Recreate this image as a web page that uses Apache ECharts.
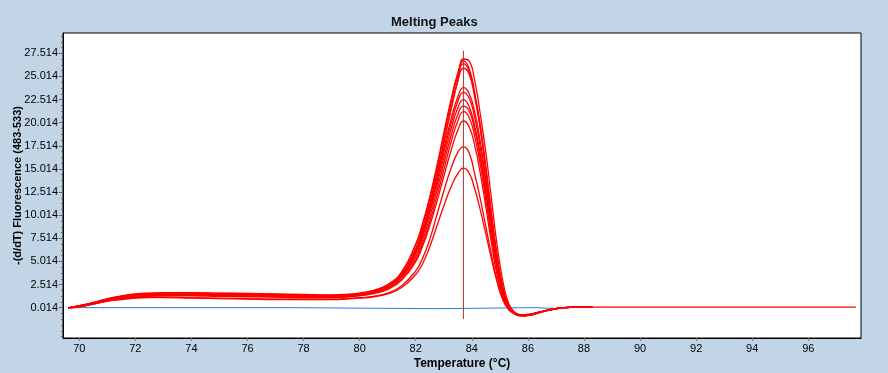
<!DOCTYPE html>
<html>
<head>
<meta charset="utf-8">
<script src="https://cdn.jsdelivr.net/npm/echarts@6/dist/echarts.min.js"></script>
<style>
html,body{margin:0;padding:0;background:#c2d5e6;}
#chart{width:888px;height:373px;}
</style>
</head>
<body>
<div id="chart"></div>
<script>
// Temperature grid (°C) shared by the red melting-peak curves
const temps = [69.6, 70, 70.5, 71, 71.5, 72, 72.5, 73, 74, 75, 76, 77, 78, 79, 79.5, 80, 80.5, 81, 81.5, 82,
  82.25, 82.5, 82.75, 83, 83.25, 83.5, 83.7, 83.9, 84.1, 84.3, 84.5, 84.7, 84.9, 85.1, 85.3, 85.5, 85.8, 86.1, 86.5, 87, 87.5, 88.3];

// -(d/dT) Fluorescence values, one array per sample
const curve1 = [0.0, 0.25, 0.6, 1.0, 1.3, 1.5, 1.6, 1.65, 1.65, 1.6, 1.55, 1.5, 1.45, 1.4, 1.45, 1.6, 1.9, 2.5, 3.6, 6.2,
  8.3, 11.0, 14.2, 17.8, 21.3, 24.6, 26.9, 26.7, 24.6, 21.0, 16.8, 11.8, 6.8, 3.0, 0.6, -0.4, -0.85, -0.8, -0.45, -0.1, 0.05, 0.05];
const curve2 = [0.0, 0.2, 0.55, 0.95, 1.25, 1.45, 1.55, 1.6, 1.6, 1.55, 1.5, 1.45, 1.4, 1.35, 1.4, 1.55, 1.85, 2.5, 3.9, 6.9,
  9.2, 12.0, 15.3, 18.9, 22.4, 25.4, 26.7, 25.9, 23.3, 19.5, 14.8, 9.8, 5.4, 2.1, 0.2, -0.6, -0.9, -0.75, -0.4, -0.1, 0.05, 0.05];
const curve3 = [0.0, 0.2, 0.5, 0.9, 1.2, 1.4, 1.5, 1.55, 1.55, 1.5, 1.45, 1.4, 1.35, 1.3, 1.35, 1.5, 1.8, 2.45, 3.8, 6.8,
  9.0, 11.8, 15.0, 18.5, 22.0, 25.1, 26.4, 25.6, 23.1, 19.8, 15.3, 10.3, 5.7, 2.3, 0.3, -0.55, -0.85, -0.75, -0.4, -0.1, 0.05, 0.05];
const curve4 = [0.0, 0.15, 0.5, 0.85, 1.15, 1.35, 1.45, 1.5, 1.5, 1.45, 1.4, 1.35, 1.3, 1.25, 1.3, 1.45, 1.75, 2.35, 3.6, 6.4,
  8.6, 11.3, 14.5, 17.9, 21.4, 24.5, 25.9, 25.3, 22.8, 19.4, 15.0, 10.0, 5.5, 2.2, 0.25, -0.55, -0.85, -0.7, -0.4, -0.1, 0.05, 0.05];
const curve5 = [0.0, 0.2, 0.55, 0.9, 1.2, 1.4, 1.5, 1.55, 1.5, 1.5, 1.45, 1.4, 1.35, 1.3, 1.35, 1.5, 1.8, 2.4, 3.6, 6.2,
  8.3, 11.0, 14.0, 17.2, 20.3, 22.8, 23.8, 23.2, 21.2, 18.0, 13.8, 9.2, 5.0, 1.9, 0.2, -0.55, -0.85, -0.75, -0.4, -0.1, 0.05, 0.05];
const curve6 = [0.0, 0.15, 0.5, 0.85, 1.1, 1.3, 1.4, 1.45, 1.45, 1.4, 1.35, 1.3, 1.3, 1.25, 1.3, 1.45, 1.75, 2.3, 3.5, 6.0,
  8.0, 10.6, 13.6, 16.8, 19.8, 22.3, 23.3, 22.7, 20.6, 17.4, 13.3, 8.8, 4.8, 1.8, 0.2, -0.55, -0.8, -0.7, -0.4, -0.1, 0.05, 0.05];
const curve7 = [0.0, 0.2, 0.5, 0.85, 1.15, 1.35, 1.45, 1.5, 1.5, 1.45, 1.4, 1.35, 1.3, 1.3, 1.35, 1.45, 1.75, 2.3, 3.4, 5.8,
  7.8, 10.3, 13.2, 16.2, 19.2, 21.6, 22.5, 21.8, 19.7, 16.6, 12.6, 8.4, 4.5, 1.6, 0.1, -0.5, -0.8, -0.7, -0.4, -0.1, 0.05, 0.05];
const curve8 = [0.0, 0.15, 0.45, 0.8, 1.05, 1.25, 1.35, 1.4, 1.4, 1.35, 1.3, 1.25, 1.2, 1.2, 1.25, 1.4, 1.7, 2.2, 3.3, 5.5,
  7.4, 9.8, 12.6, 15.6, 18.5, 20.9, 21.8, 21.3, 19.3, 16.2, 12.3, 8.2, 4.4, 1.5, 0.1, -0.5, -0.8, -0.7, -0.4, -0.1, 0.05, 0.05];
const curve9 = [0.0, 0.15, 0.45, 0.8, 1.05, 1.2, 1.3, 1.35, 1.35, 1.3, 1.25, 1.2, 1.15, 1.15, 1.2, 1.35, 1.6, 2.1, 3.1, 5.2,
  7.0, 9.3, 12.0, 14.9, 17.8, 20.2, 21.2, 20.6, 18.6, 15.5, 11.7, 7.7, 4.1, 1.4, 0.05, -0.5, -0.8, -0.7, -0.4, -0.1, 0.05, 0.05];
const curve10 = [0.0, 0.1, 0.4, 0.75, 1.0, 1.15, 1.25, 1.3, 1.3, 1.25, 1.2, 1.15, 1.1, 1.1, 1.15, 1.3, 1.55, 2.0, 3.0, 5.0,
  6.7, 8.9, 11.4, 14.2, 16.9, 19.2, 20.2, 19.6, 17.6, 14.6, 10.9, 7.0, 3.6, 1.2, 0.0, -0.5, -0.75, -0.65, -0.4, -0.1, 0.05, 0.05];
const curve11 = [0.0, 0.15, 0.45, 0.75, 0.95, 1.1, 1.15, 1.15, 1.1, 1.05, 1.0, 0.95, 0.95, 0.95, 1.0, 1.1, 1.25, 1.6, 2.4, 4.0,
  5.4, 7.4, 10.0, 12.6, 15.0, 16.8, 17.4, 16.8, 14.5, 11.8, 8.8, 5.8, 3.0, 1.0, -0.1, -0.6, -0.8, -0.7, -0.4, -0.1, 0.05, 0.05];
const curve12 = [0.0, 0.1, 0.4, 0.7, 0.9, 1.05, 1.1, 1.1, 1.05, 1.0, 0.95, 0.9, 0.9, 0.9, 0.95, 1.05, 1.2, 1.5, 2.2, 3.6,
  4.8, 6.6, 8.8, 11.0, 13.0, 14.5, 15.1, 14.6, 12.9, 10.6, 8.0, 5.3, 2.8, 0.9, -0.15, -0.6, -0.8, -0.7, -0.4, -0.1, 0.05, 0.05];
const redCurves = [curve1, curve2, curve3, curve4, curve5, curve6, curve7, curve8, curve9, curve10, curve11, curve12];

// Red trace continuing flat to the end of the run
const tailTemps = [87.5, 88.3, 97.7];
const tailValues = [0.05, 0.08, 0.08];

// Blue (negative control) trace
const blueTemps = [69.6, 77.5, 82.8, 86.2, 87.2];
const blueValues = [0.02, -0.09, 0.02, -0.09, -0.09];

// Vertical cursor
const cursorTemp = 83.7;
const cursorRange = [-1.2, 27.8];

// Axis ticks
const xTicks = [70, 72, 74, 76, 78, 80, 82, 84, 86, 88, 90, 92, 94, 96];
const yTicks = [0.014, 2.514, 5.014, 7.514, 10.014, 12.514, 15.014, 17.514, 20.014, 22.514, 25.014, 27.514];
const yTickLabels = ['0.014', '2.514', '5.014', '7.514', '10.014', '12.514', '15.014', '17.514', '20.014', '22.514', '25.014', '27.514'];

const xMin = 69.42, xMax = 97.88, yMin = -3.26, yMax = 29.71;

// minor y ticks: 3 subdivisions between major ticks
const yMinor = [];
for (let k = -5; k <= 47; k++) {
  const v = +(0.014 + k * 0.625).toFixed(4);
  if (v > yMin && v < yMax) yMinor.push(v);
}

const FONT = 'Liberation Sans, Arial, sans-serif';
const series = [];
series.push({
  type: 'line', name: 'blue', step: 'end', symbol: 'none', silent: true,
  data: blueTemps.map((t, i) => [t, blueValues[i]]),
  lineStyle: { color: '#1c7ce0', width: 1 }, z: 1
});
redCurves.forEach((c) => {
  series.push({
    type: 'line', symbol: 'none', smooth: 0.5, silent: true,
    data: temps.map((t, i) => [t, c[i]]),
    lineStyle: { color: '#ff0000', width: 1.3 }, z: 2
  });
});
series.push({
  type: 'line', symbol: 'none', silent: true,
  data: tailTemps.map((t, i) => [t, tailValues[i]]),
  lineStyle: { color: '#ff0000', width: 1.3 }, z: 2
});
series.push({
  type: 'line', symbol: 'none', silent: true,
  data: [[cursorTemp, cursorRange[0]], [cursorTemp, cursorRange[1]]],
  lineStyle: { color: '#a8322d', width: 1 }, z: 3
});

const chart = echarts.init(document.getElementById('chart'), null, { renderer: 'canvas' });
chart.setOption({
  animation: false,
  backgroundColor: '#c2d5e6',
  title: {
    text: 'Melting Peaks', left: 386, top: 11,
    textStyle: { fontSize: 13, fontWeight: 'bold', color: '#111', fontFamily: FONT }
  },
  grid: {
    left: 63, right: 27, top: 33, bottom: 35, containLabel: false, outerBoundsMode: 'none',
    show: true, backgroundColor: '#ffffff', borderColor: '#000', borderWidth: 1
  },
  xAxis: {
    type: 'value', min: xMin, max: xMax,
    name: 'Temperature (°C)', nameLocation: 'middle', nameGap: 20, nameMoveOverlap: false,
    nameTextStyle: { fontSize: 12, fontWeight: 'bold', color: '#000', fontFamily: FONT },
    axisLine: { onZero: false, lineStyle: { color: '#000', width: 1 } },
    axisTick: { show: true, customValues: xTicks, length: 3, lineStyle: { color: '#777' } },
    axisLabel: { customValues: xTicks, margin: 5, fontSize: 11, color: '#000', fontFamily: FONT },
    splitLine: { show: false }
  },
  yAxis: [{
    type: 'value', min: yMin, max: yMax,
    name: '-(d/dT) Fluorescence (483-533)', nameLocation: 'middle', nameGap: 40, nameRotate: 90, nameMoveOverlap: false,
    nameTextStyle: { fontSize: 11, fontWeight: 'bold', color: '#000', fontFamily: FONT },
    axisLine: { show: true, onZero: false, lineStyle: { color: '#000', width: 1 } },
    axisTick: { show: true, customValues: yTicks, length: 4, lineStyle: { color: '#666' } },
    axisLabel: {
      customValues: yTicks, margin: 5, fontSize: 11, color: '#000', fontFamily: FONT,
      formatter: (v) => { const i = yTicks.findIndex(t => Math.abs(t - v) < 1e-6); return i >= 0 ? yTickLabels[i] : ''; }
    },
    splitLine: { show: false }
  }, {
    type: 'value', min: yMin, max: yMax, position: 'left',
    axisLine: { show: false, onZero: false },
    axisTick: { show: true, customValues: yMinor, length: 2, lineStyle: { color: '#666' } },
    axisLabel: { show: false },
    splitLine: { show: false }
  }],
  series: series
});
</script>
</body>
</html>
